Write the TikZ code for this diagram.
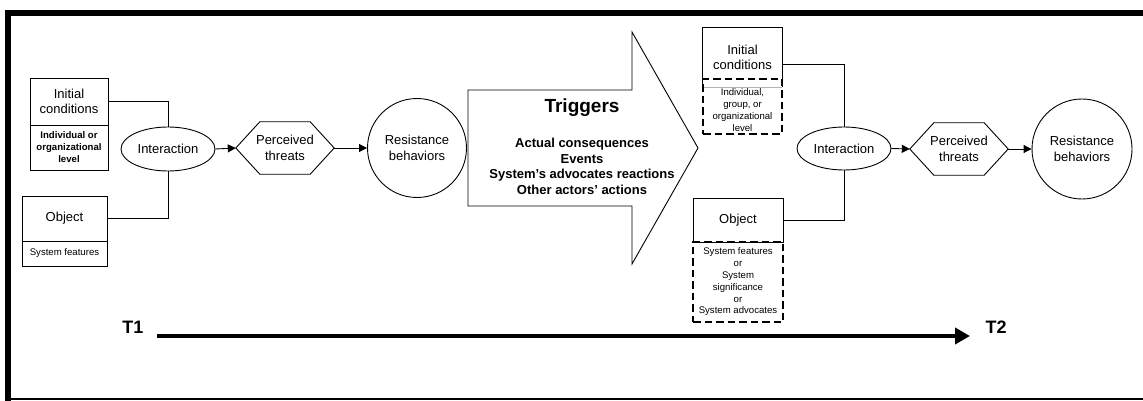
\documentclass[tikz,border=0pt]{standalone}
\usepackage{fontspec}
\setmainfont{Liberation Sans}
\usetikzlibrary{shapes.geometric,arrows.meta,calc}
\newcommand\hexdraw[1]{\draw[line width=0.9pt] (#1.west) -- ([xshift=24pt]#1.north west) -- ([xshift=-24pt]#1.north east) -- (#1.east) -- ([xshift=-24pt]#1.south east) -- ([xshift=24pt]#1.south west) -- cycle;}
\tikzset{
  box/.style={draw, line width=0.9pt, inner sep=0pt, align=center, font=\fontsize{13}{15.5}\selectfont},
  subbox/.style={draw, line width=0.9pt, inner sep=0pt, align=center, font=\fontsize{9.6}{11.6}\selectfont},
  dashbox/.style={draw, line width=2.8pt, dash pattern=on 7.5pt off 4pt, inner sep=0pt, align=center, font=\fontsize{9.6}{11.8}\selectfont},
  inter/.style={draw, ellipse, line width=0.9pt, inner sep=0pt, font=\fontsize{13}{15.5}\selectfont},
  hexnode/.style={draw=none, inner sep=0pt, minimum width=98pt, minimum height=52pt, align=center, font=\fontsize{13}{15.5}\selectfont},
  resist/.style={draw, circle, line width=0.9pt, inner sep=0pt, align=center, font=\fontsize{13}{15.5}\selectfont},
  link/.style={line width=0.9pt},
  arr/.style={line width=0.9pt, -{Triangle[length=8pt,width=8pt]}},
  tlabel/.style={font=\bfseries\fontsize{18}{21}\selectfont, inner sep=0pt}
}
\begin{document}
\begin{tikzpicture}[x=1pt,y=-1pt]
\useasboundingbox (0,0) rectangle (1143,401);
% frame
\draw[line width=5.5pt] (8,401) -- (8,13) -- (1143,13);
\draw[line width=1.5pt] (5,399) -- (1143,399);

% ---- left (T1) ----
\node[box, minimum width=78pt, minimum height=47pt] (ic1) at (69,101.5) {Initial\\conditions};
\node[subbox, minimum width=78pt, minimum height=45pt, font=\bfseries\fontsize{9.6}{12}\selectfont] (ic1l) at (69,147.5) {Individual or\\organizational\\level};
\node[box, minimum width=85pt, minimum height=45pt] (ob1) at (64.5,218.5) {Object};
\node[subbox, minimum width=85pt, minimum height=25pt] (ob1l) at (64.5,253.5) {System features};
\node[inter, minimum width=94pt, minimum height=44pt] (int1) at (168,149) {Interaction};
\node[hexnode] (pt1) at (285,148) {Perceived\\threats};
\hexdraw{pt1}
\node[resist, minimum size=99pt] (rb1) at (417,148) {Resistance\\behaviors};
\draw[link] (ic1.east) -| (int1.north);
\draw[link] (ob1.east) -| (int1.south);
\draw[arr] (int1.east) -- (pt1.west);
\draw[arr] (pt1.east) -- (rb1.west);

% ---- triggers ----
\draw[line width=0.9pt] (468,90) -- (632,90) -- (632,32) -- (698,148) -- (632,264) -- (632,206) -- (468,206) -- cycle;
\node[font=\bfseries\fontsize{19}{22}\selectfont, inner sep=0pt] (trig) at (582,108) {Triggers};
\node[font=\bfseries\fontsize{13}{15.7}\selectfont, align=center, inner sep=0pt] (triglist) at (582,166.5) {Actual consequences\\Events\\System’s advocates reactions\\Other actors’ actions};

% ---- right (T2) ----
\node[draw=none, minimum width=79pt, minimum height=59pt, inner sep=0pt, align=center, font=\fontsize{13}{15.5}\selectfont] (ic2) at (742.5,57.5) {Initial\\conditions};
\draw[line width=0.9pt] (ic2.south west) |- (ic2.north east) -- (ic2.south east);
\draw[line width=0.8pt, black!30] (ic2.south west) -- (ic2.south east);
\node[dashbox, minimum width=79pt, minimum height=55pt] (ic2l) at (742.5,106.5) {};
\node[inner sep=0pt, align=center, font=\fontsize{9.6}{11.8}\selectfont] (ic2lt) at (742.5,110) {Individual,\\group, or\\organizational\\level};
\node[box, minimum width=90pt, minimum height=44pt] (ob2) at (738,220) {Object};
\node[dashbox, minimum width=90pt, minimum height=80pt] (ob2l) at (738,282) {System features\\or\\System\\significance\\or\\System advocates};
\node[inter, minimum width=94pt, minimum height=43pt] (int2) at (844,148.5) {Interaction};
\node[hexnode] (pt2) at (959,149) {Perceived\\threats};
\hexdraw{pt2}
\node[resist, minimum size=100pt] (rb2) at (1082,149) {Resistance\\behaviors};
\draw[link] ([yshift=-6.5pt]ic2.east) -| (int2.north);
\draw[link] (ob2.east) -| (int2.south);
\draw[arr] (int2.east) -- (pt2.west);
\draw[arr] (pt2.east) -- (rb2.west);

% ---- timeline ----
\node[tlabel] (t1) at (133,327) {T1};
\node[tlabel] (t2) at (996,327) {T2};
\coordinate (ts) at (157,336);
\coordinate (te) at (970,336);
\draw[line width=3.8pt, -{Triangle[length=15pt,width=16pt]}] (ts) -- (te);
\end{tikzpicture}
\end{document}
